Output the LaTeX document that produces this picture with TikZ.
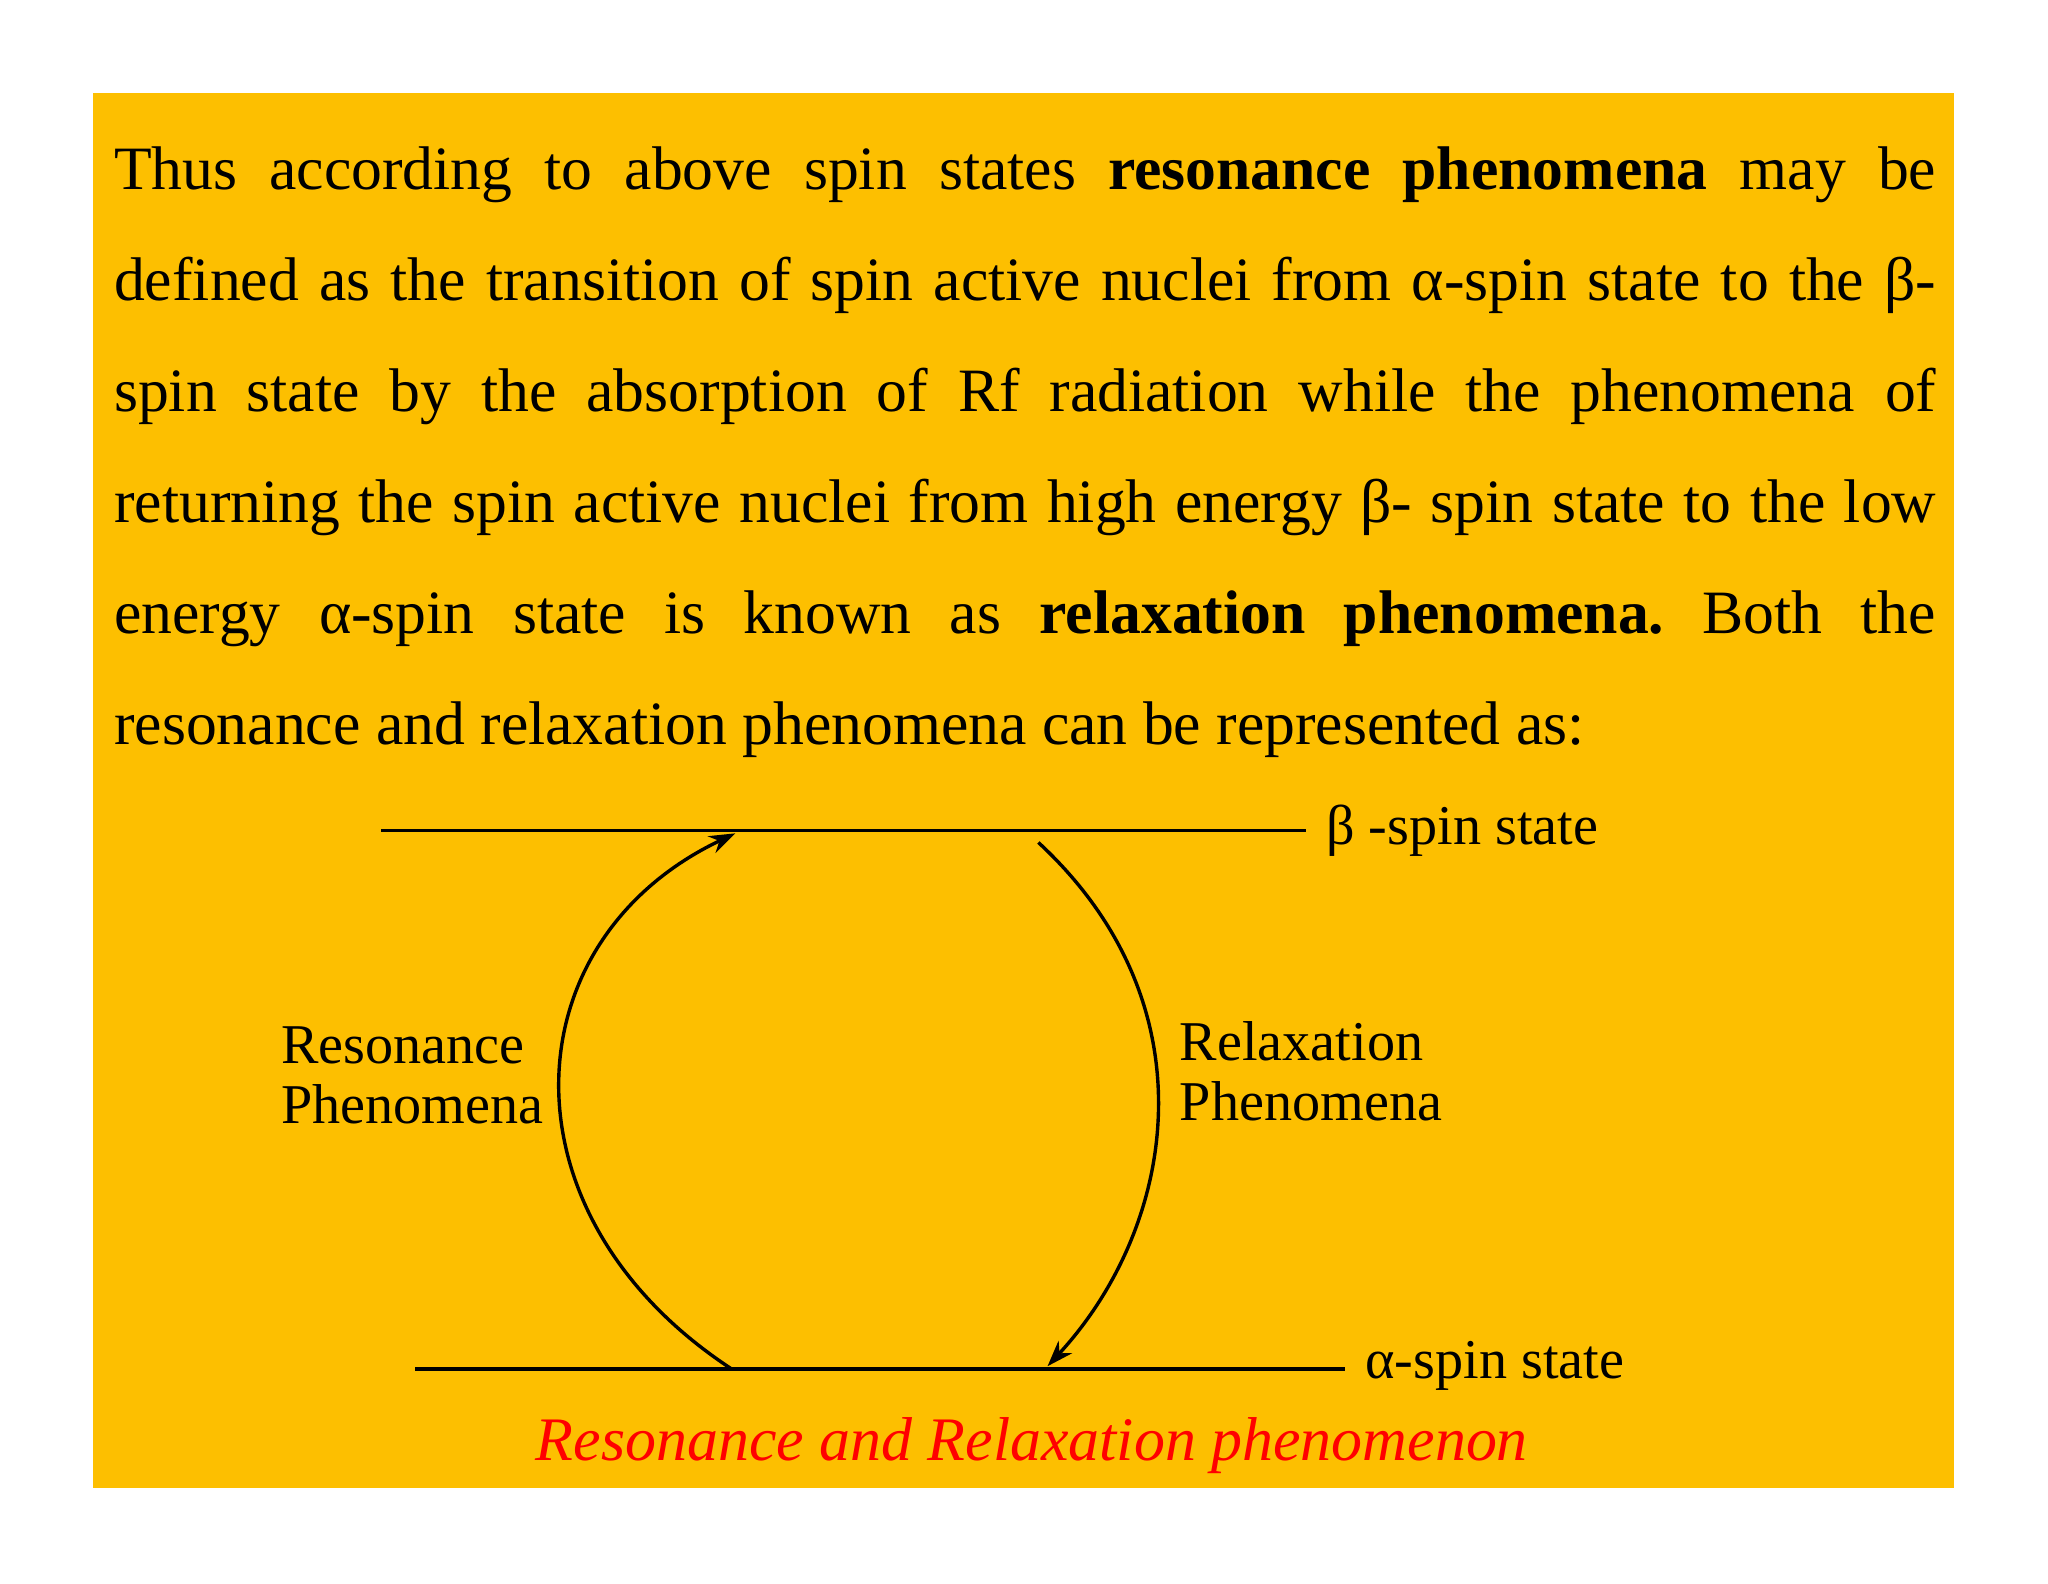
\documentclass[tikz,border=0pt]{standalone}
\usepackage{fontspec}
\setmainfont{Liberation Serif}
\usetikzlibrary{arrows.meta}
\definecolor{bg}{HTML}{FDBF00}
\begin{document}
\begin{tikzpicture}[x=0.5pt,y=-0.5pt,
  lvl/.style={line width=1.3pt},
  arc/.style={line width=1.3pt,-{Stealth[length=10pt,width=7pt]}},
  lab/.style={font=\fontsize{21.5}{23}\selectfont,align=left,anchor=west,inner sep=0}]
\useasboundingbox (0,0) rectangle (1568,1212);
\fill[bg] (71,71) rectangle (1496,1139);
\node[anchor=north west,inner sep=0] (para) at (87,112) {\begin{minipage}{697.5pt}\frenchspacing\fontsize{23.6}{42.5}\selectfont
Thus according to above spin states \textbf{resonance phenomena} may be\linebreak
defined as the transition of spin active nuclei from α-spin state to the β-\linebreak
spin state by the absorption of Rf radiation while the phenomena of\linebreak
returning the spin active nuclei from high energy β- spin state to the low\linebreak
energy α-spin state is known as \textbf{relaxation phenomena.} Both the\linebreak
resonance and relaxation phenomena can be represented as:\end{minipage}};
\coordinate (b1) at (292,636); \coordinate (b2) at (1000,636);
\coordinate (a1) at (318,1048); \coordinate (a2) at (1030,1048);
\draw[lvl] (b1) -- (b2);
\draw[lvl] (a1) -- (a2);
\node[lab] (bl) at (1015,636) {β -spin state};
\node[lab] (al) at (1045,1046) {α-spin state};
\coordinate (rs) at (560,1048); \coordinate (re) at (563,638);
\coordinate (xs) at (795,645); \coordinate (xe) at (802,1046);
\draw[arc] (rs) .. controls (380,930) and (390,720) .. (re);
\draw[arc] (xs) .. controls (930,770) and (900,940) .. (xe);
\node[lab] (resl) at (215,823) {Resonance\\Phenomena};
\node[lab] (rell) at (903,820) {Relaxation\\Phenomena};
\node[text=red,font=\fontsize{23.7}{28}\itshape] (cap) at (790,1107) {Resonance and Relaxation phenomenon};
\end{tikzpicture}
\end{document}
